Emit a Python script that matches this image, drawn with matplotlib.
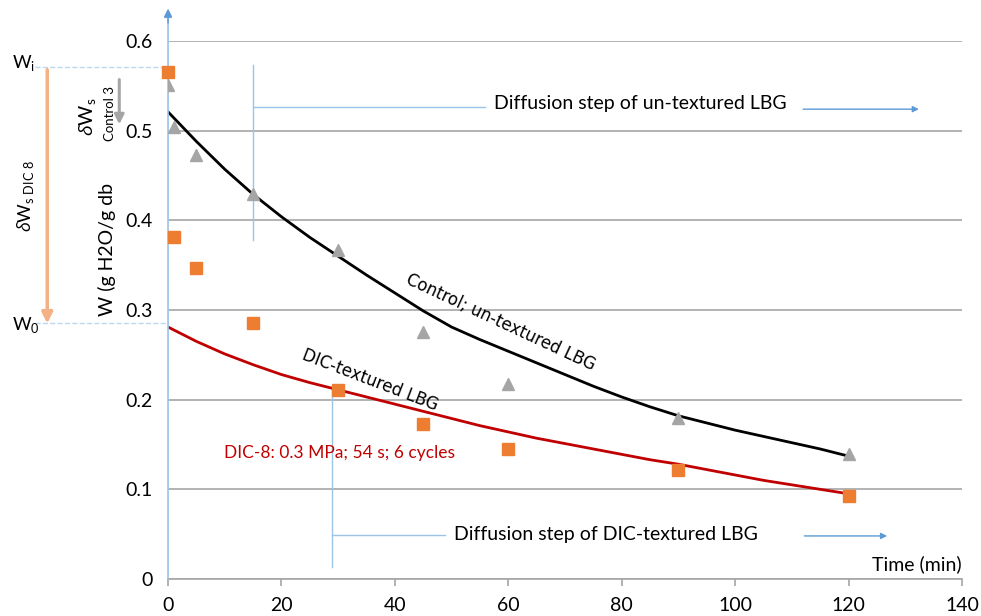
import matplotlib.pyplot as plt

plt.rcParams['font.family'] = ['Lato', 'DejaVu Sans']
plt.rcParams['mathtext.fontset'] = 'custom'
plt.rcParams['mathtext.rm'] = 'Open Sans'
plt.rcParams['mathtext.it'] = 'Open Sans:italic'

# Datos experimentales (min, g H2O/g db)
tiempo = [0, 1, 5, 15, 30, 45, 60, 90, 120]
w_dic8 = [0.566, 0.381, 0.347, 0.285, 0.211, 0.173, 0.145, 0.121, 0.093]
w_control = [0.551, 0.504, 0.473, 0.429, 0.367, 0.276, 0.218, 0.180, 0.139]

# Curvas de ajuste (cada 5 min)
t_ajuste = [0, 5, 10, 15, 20, 25, 30, 35, 40, 45, 50, 55, 60,
            65, 70, 75, 80, 85, 90, 95, 100, 105, 110, 115, 120]
ajuste_control = [0.521, 0.488, 0.457, 0.429, 0.404, 0.381, 0.360, 0.339, 0.319, 0.299,
                  0.281, 0.267, 0.254, 0.241, 0.228, 0.215, 0.203, 0.192, 0.182, 0.174,
                  0.166, 0.159, 0.152, 0.145, 0.137]
ajuste_dic8 = [0.281, 0.265, 0.251, 0.239, 0.228, 0.219, 0.211, 0.203, 0.195, 0.187,
               0.179, 0.171, 0.164, 0.157, 0.151, 0.145, 0.139, 0.133, 0.128, 0.122,
               0.116, 0.110, 0.105, 0.100, 0.095]

x_ticks = [0, 20, 40, 60, 80, 100, 120, 140]
y_ticks = [0, 0.1, 0.2, 0.3, 0.4, 0.5, 0.6]

azul = '#9DC3E6'
azul_osc = '#5B9BD5'

fig = plt.figure(figsize=(9.81, 6.16), dpi=100)
ax = fig.add_axes([0.1713, 0.0601, 0.8093, 0.8733])

ax.set_xlim(0, 140)
ax.set_ylim(0, 0.6)
ax.set_xticks(x_ticks)
ax.set_yticks(y_ticks)
ax.set_yticklabels(['0', '0.1', '0.2', '0.3', '0.4', '0.5', '0.6'])
ax.yaxis.grid(True, color='#A6A6A6', lw=1.2)
ax.set_axisbelow(True)
for s in ['top', 'right', 'left']:
    ax.spines[s].set_visible(False)
ax.spines['bottom'].set_color('#A6A6A6')
ax.spines['bottom'].set_linewidth(1.2)
ax.tick_params(axis='y', length=0, pad=11, labelsize=14)
ax.tick_params(axis='x', length=5, color='#A6A6A6', width=1.2, pad=8, labelsize=14)

# Curvas
ax.plot(t_ajuste, ajuste_control, color='black', lw=2.0, zorder=3)
ax.plot(t_ajuste, ajuste_dic8, color='#C00000', lw=2.0, zorder=3)
ax.plot(tiempo, w_control, ls='none', marker='^', ms=9, color='#A5A5A5', zorder=4)
ax.plot(tiempo, w_dic8, ls='none', marker='s', ms=8.5, color='#ED7D31', zorder=4, clip_on=False)

# Eje Y azul con flecha
ax.annotate('', xy=(0, 0.636), xytext=(0, 0), annotation_clip=False,
            arrowprops=dict(arrowstyle='-|>', color=azul, lw=1.2, mutation_scale=12,
                            shrinkA=0, shrinkB=0))
ax.annotate('', xy=(0, 0.636), xytext=(0, 0.62), annotation_clip=False,
            arrowprops=dict(arrowstyle='-|>', color=azul_osc, lw=1, mutation_scale=12,
                            shrinkA=0, shrinkB=0))

# Wi y W0
ax.plot([-23.5, 0], [0.571, 0.571], ls='--', color='#BDD7EE', lw=1, clip_on=False)
ax.plot([-23.5, 0], [0.285, 0.285], ls='--', color='#BDD7EE', lw=1, clip_on=False)
ax.text(-27.5, 0.576, r'W$_\mathregular{i}$', fontsize=13, va='center', ha='left')
ax.text(-27.5, 0.283, r'W$_\mathregular{0}$', fontsize=13, va='center', ha='left')

ax.annotate('', xy=(-21.3, 0.285), xytext=(-21.3, 0.568), annotation_clip=False,
            arrowprops=dict(arrowstyle='-|>', color='#F4B183', lw=2.5, mutation_scale=16,
                            shrinkA=0, shrinkB=0))
ax.annotate('', xy=(-8.6, 0.507), xytext=(-8.6, 0.557), annotation_clip=False,
            arrowprops=dict(arrowstyle='-|>', color='#A5A5A5', lw=2.2, mutation_scale=14,
                            shrinkA=0, shrinkB=0))

ax.text(-25.1, 0.427, r'$\delta$W$_\mathregular{s\ DIC\ 8}$', fontsize=13, rotation=90,
        ha='center', va='center')
ax.text(-14.2, 0.516, r'$\delta$W$_\mathregular{s}$', fontsize=14, rotation=90,
        ha='center', va='center')
ax.text(-10.2, 0.519, 'Control 3', fontsize=9.5, rotation=90, ha='center', va='center')
ax.text(-10.8, 0.367, 'W (g H2O/g db', fontsize=14, rotation=90, ha='center', va='center')

# Etapas de difusion
ax.plot([15, 15], [0.378, 0.573], color=azul, lw=1)
ax.plot([15, 55.9], [0.526, 0.526], color=azul, lw=1)
ax.text(57.5, 0.530, 'Diffusion step of un-textured LBG', fontsize=14, va='center', ha='left')
ax.annotate('', xy=(132.4, 0.524), xytext=(112, 0.524), annotation_clip=False,
            arrowprops=dict(arrowstyle='-|>', color=azul_osc, lw=1, mutation_scale=9,
                            shrinkA=0, shrinkB=0))

ax.plot([28.9, 28.9], [0.013, 0.214], color=azul, lw=1)
ax.plot([28.9, 48.8], [0.049, 0.049], color=azul, lw=1)
ax.text(50.4, 0.050, 'Diffusion step of DIC-textured LBG', fontsize=14, va='center', ha='left')
ax.annotate('', xy=(126.8, 0.048), xytext=(112.2, 0.048), annotation_clip=False,
            arrowprops=dict(arrowstyle='-|>', color=azul_osc, lw=1, mutation_scale=9,
                            shrinkA=0, shrinkB=0))

ax.text(140, 0.016, 'Time (min)', fontsize=14, ha='right', va='center')

# Etiquetas de curvas
ax.text(58.7, 0.2865, 'Control; un-textured LBG', fontsize=12, rotation=-25,
        family='DejaVu Sans', ha='center', va='center', rotation_mode='anchor')
ax.text(35.6, 0.222, 'DIC-textured LBG', fontsize=12, rotation=-21,
        family='DejaVu Sans', ha='center', va='center', rotation_mode='anchor')
ax.text(9.9, 0.1405, 'DIC-8: 0.3 MPa; 54 s; 6 cycles', fontsize=12.5, color='#C00000',
        ha='left', va='center')

fig.savefig('out.png', dpi=100)
